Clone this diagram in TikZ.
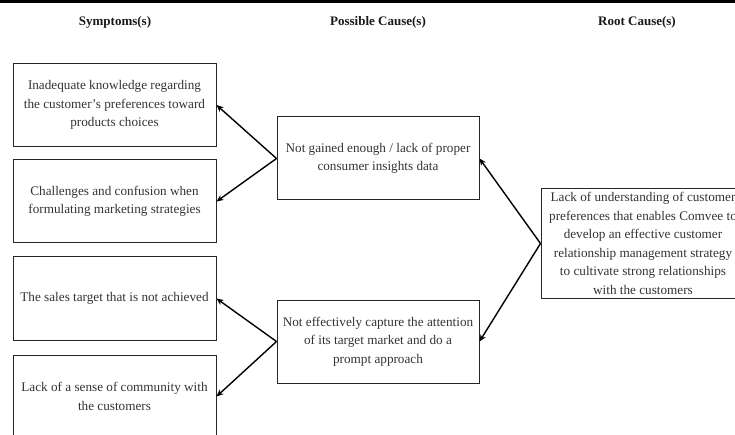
\documentclass[tikz,border=0pt]{standalone}
\usepackage{fontspec}
\setmainfont{Liberation Serif}
\usetikzlibrary{arrows.meta}
\begin{document}
\begin{tikzpicture}[x=1pt,y=-1pt,
  box/.style={draw=black!85,line width=1pt,minimum width=203pt,minimum height=83pt,
    align=center,font=\fontsize{13.2}{18.5}\selectfont,text=black!80,inner sep=1pt},
  head/.style={font=\fontsize{13}{15}\selectfont\bfseries,text=black!90},
  arr/.style={line width=1.4pt,-{Stealth[length=7pt,width=6pt]}}]
\useasboundingbox (0,0) rectangle (735,435);
\clip (0,0) rectangle (735,435);
\fill[black] (0,0) rectangle (735,3);
\node[head] (h1) at (115,22) {Symptoms(s)};
\node[head] (h2) at (378,22) {Possible Cause(s)};
\node[head] (h3) at (637,22) {Root Cause(s)};
\node[box] (s1) at (114.5,105) {Inadequate knowledge regarding\\the customer’s preferences toward\\products choices};
\node[box] (s2) at (114.5,201.5) {Challenges and confusion when\\formulating marketing strategies};
\node[box] (s3) at (114.5,298.5) {The sales target that is not achieved};
\node[box] (s4) at (114.5,396.5) {Lack of a sense of community with\\the customers};
\node[box,minimum width=202pt] (m1) at (378,158.5) {Not gained enough / lack of proper\\consumer insights data};
\node[box,minimum width=202pt] (m2) at (378,341.5) {Not effectively capture the attention\\of its target market and do a\\prompt approach};
\node[box,minimum width=204pt,minimum height=109pt] (r) at (643,243.5) {Lack of understanding of customer\\preferences that enables Comvee to\\develop an effective customer\\relationship management strategy\\to cultivate strong relationships\\with the customers};
\draw[arr] (m1.west) -- (s1.east);
\draw[arr] (m1.west) -- (s2.east);
\draw[arr] (m2.west) -- (s3.east);
\draw[arr] (m2.west) -- (s4.east);
\draw[arr] (r.west) -- (m1.east);
\draw[arr] (r.west) -- (m2.east);
\end{tikzpicture}
\end{document}
